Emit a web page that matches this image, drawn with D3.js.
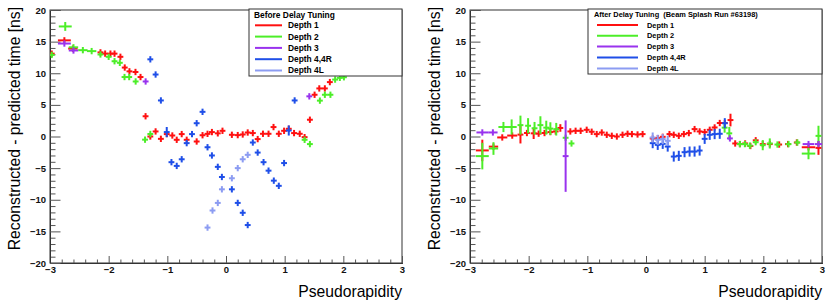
<!DOCTYPE html>
<html><head><meta charset="utf-8">
<script src="https://cdn.jsdelivr.net/npm/d3@7/dist/d3.min.js"></script>
<style>
html,body{margin:0;padding:0;background:#fff;}
svg{display:block;font-family:"Liberation Sans",Arial,Helvetica,sans-serif;}
</style></head>
<body>
<svg id="c" width="830" height="304"></svg>
<script>
// ---- data: [eta, time, etaErr, timeErr] ----
const xTicksMajor = [-3,-2,-1,0,1,2,3];
const yTicksMajor = [-20,-15,-10,-5,0,5,10,15,20];
const depthNames = ["Depth 1","Depth 2","Depth 3","Depth 4,4R","Depth 4L"];
const depthColors = ["#ff1010","#4cee28","#9933ee","#1f4fe8","#8c9cf2"];
const xLabel = "Pseudorapidity";
const yLabel = "Reconstructed - predicted time [ns]";
const titleBefore = "Before Delay Tuning";
const titleAfter = "After Delay Tuning  (Beam Splash Run #63198)";

const beforeD1 = [[-2.97,13.1],[-2.755,15.2,0.11],[-2.61,13.9,0.08],[-2.14,13.3],[-2.06,13.1],[-1.97,13.1],[-1.90,13.1],[-1.80,12.6],
 [-1.726,10.9],[-1.646,10.3],[-1.543,10.2],[-1.457,9.4],[-1.371,3.2],[-1.29,0.0],[-1.20,0.8],[-1.11,-0.37],[-1.01,0.38],[-0.915,0.16],
 [-0.84,-0.52],[-0.755,0.38],[-0.67,-0.52],[-0.50,-0.79],[-0.40,0.2],[-0.315,0.42],[-0.24,0.7],[-0.14,0.5],[-0.06,0.9],[0.10,0.27],
 [0.20,0.22],[0.285,0.32],[0.37,0.63],[0.457,0.54],[0.54,-0.41],[0.63,0.43],[0.725,0.43],[0.81,1.49],[0.90,0.43],[0.99,0.9],[1.07,1.22],
 [1.16,0.54],[1.257,0.43],[1.34,-0.1],[1.43,2.65],[1.51,6.6],[1.59,7.6],[1.685,7.6],[1.77,8.6]];
const beforeD2 = [[-2.97,12.9],[-2.74,17.4,0.11,0.7],[-2.60,14.1,0.08],[-2.44,13.65,0.08],[-2.29,13.5,0.08],[-2.14,12.97],[-2.0,12.6],
 [-1.90,11.9],[-1.81,11.65],[-1.73,9.4],[-1.65,9.4],[-1.54,8.7],[-1.38,-0.5],[-1.29,0.4],[1.34,-0.52],[1.43,-1.2],[1.60,5.67],
 [1.685,6.6],[1.78,6.6],[1.86,9.0],[1.94,9.27],[2.01,9.37]];
const beforeD3 = [[-2.755,14.7,0.11],[-2.60,13.6,0.08],[-1.37,8.7],[1.42,6.35]];
const beforeD4 = [[-1.29,12.2],[-1.20,9.8],[-1.11,5.7],[-1.01,0.7,0.05,0.8],[-0.93,-4.06],[-0.84,-4.65],[-0.755,-3.6],[-0.67,-1.05],
 [-0.58,0.38],[-0.50,2.1],[-0.40,3.9],[-0.315,-1.7],[-0.24,-3.0],[-0.14,-4.8],[-0.07,-6.4],[0.10,-8.35],[0.20,-10.5],[0.285,-12.06],
 [0.37,-14.0],[0.457,-0.95],[0.54,-2.54],[0.64,-4.06],[0.725,-5.4],[0.815,-6.98],[0.90,-7.8],[0.99,-4.2],[1.07,0.95,0.05,0.8],[1.17,5.7]];
const beforeD4L = [[-0.315,-14.4],[-0.23,-11.7],[-0.14,-10.5],[-0.07,-8.35],[0.10,-6.6],[0.20,-5.0],[0.285,-3.6],[0.37,-2.9]];

const afterD1 = [[-2.79,-2.2,0.11,1.7],[-2.60,-1.6,0.08,0.5],[-2.45,-0.15,0.086],[-2.28,0.15,0.086],[-2.14,0.3,0.05,1.4],[-2.03,0.55],
 [-1.915,0.5,0.05,0.9],[-1.83,0.45],[-1.73,0.55],[-1.63,0.7],[-1.54,0.8],[-1.46,1.35,0.05,0.6],[-1.29,0.8],[-1.20,0.9],[-1.114,0.9],
 [-1.011,1.06],[-0.926,0.75],[-0.84,0.38],[-0.754,0.63],[-0.669,0.27],[-0.583,0.11],[-0.497,0.0],[-0.40,0.27],[-0.314,0.43],[-0.24,0.38],
 [-0.144,0.32],[-0.058,0.38],[0.114,-0.32],[0.2,-0.26],[0.285,-0.05],[0.40,0.38],[0.473,0.27],[0.559,0.11],[0.645,0.38],[0.73,0.54],
 [0.828,1.17],[0.914,0.8],[1.0,0.7],[1.086,1.06],[1.17,1.43],[1.257,2.13],[1.343,2.13],[1.44,2.6,0.05,1.0],[1.52,-1.1],[1.60,-1.2],
 [1.69,-1.1],[1.78,-1.5],[1.87,-0.6],[1.99,-1.2],[2.11,-1.2],[2.27,-1.27],[2.42,-1.2],[2.57,-0.95],[2.77,-1.7,0.115],[2.94,-1.8,0.05,1.1]];
const afterD2 = [[-2.79,-3.1,0.11,2.1],[-2.60,-1.9,0.08,1.0],[-2.43,1.5,0.086,0.8],[-2.29,1.5,0.086,1.2],[-2.14,1.8,0.05,1.5],
 [-2.01,1.7,0.05,1.2],[-1.90,1.3,0.05,1.0],[-1.80,1.8,0.05,1.4],[-1.70,1.4,0.05,1.1],[-1.63,1.25,0.05,1.0],[-1.53,1.15,0.05,1.0],
 [-1.37,-0.2],[-1.27,-1.1],[1.34,1.4,0.05,0.8],[1.42,0.5,0.05,1.0],[1.60,-1.2],[1.685,-1.2],[1.77,-1.45],[1.87,-0.9],[1.99,-1.37,0.05,0.8],
 [2.11,-1.1,0.05,0.8],[2.24,-1.27],[2.43,-1.2],[2.58,-0.95],[2.77,-2.7,0.115,0.9],[2.94,0.1,0.05,1.6]];
const afterD3 = [[-2.79,0.64,0.1],[-2.61,0.64,0.08],[-1.37,-3.1,0.05,5.65],[1.43,-0.3],[2.77,-1.2,0.1],[2.94,-1.2,0.06]];
const afterD4 = [[0.114,-1.05,0.05,0.8],[0.2,-1.32,0.05,0.8],[0.285,-1.16,0.05,0.8],[0.37,-1.59,0.05,0.8],[0.473,-3.17,0.05,0.8],
 [0.559,-3.06,0.05,0.8],[0.657,-2.48,0.05,0.8],[0.743,-2.38,0.05,0.8],[0.828,-2.38,0.05,0.8],[0.914,-2.22,0.05,0.8],
 [1.0,-0.37,0.05,0.8],[1.086,0.27,0.05,0.8],[1.17,0.38,0.05,0.8],[1.257,0.43,0.05,0.8],[1.343,2.1,0.05,0.8]];
const afterD4L = [[0.114,-0.16,0.05,0.8],[0.2,-0.52,0.05,0.8],[0.285,-0.41,0.05,0.8],[0.37,-0.68,0.05,0.8]];

// ---- layout ----
const svg = d3.select("#c");
const panels = [
  {left:50, right:402, series:[beforeD1,beforeD2,beforeD3,beforeD4,beforeD4L], title:titleBefore,
   leg:{x:249,y:9,w:153,h:67,fs:8.4,titleX:254,titleY:15,lineX1:255,lineX2:282,textX:288,rows:[25.3,36.6,47.9,59.2,70.5]}},
  {left:470, right:822, series:[afterD1,afterD2,afterD3,afterD4,afterD4L], title:titleAfter,
   leg:{x:588,y:9,w:234,h:65,fs:7.4,titleX:594,titleY:14.2,lineX1:597,lineX2:638,textX:647,rows:[25,35.8,46.6,57.6,68.5]}}
];
const plotTop = 10, plotBottom = 263;
const defEx = 0.05, defEy = 0.5;

panels.forEach(p => {
  const x = d3.scaleLinear().domain([-3,3]).range([p.left,p.right]);
  const y = d3.scaleLinear().domain([-20,20]).range([plotBottom,plotTop]);
  const g = svg.append("g");

  g.append("rect").attr("x",p.left).attr("y",plotTop).attr("width",p.right-p.left).attr("height",plotBottom-plotTop)
    .attr("fill","#fff").attr("stroke","#333").attr("stroke-width",1);

  const xMinor = d3.range(-3,3.0001,0.2).filter(v=>Math.abs(v-Math.round(v))>1e-6);
  const yMinor = d3.range(-20,20.0001,1).filter(v=>v%5!==0);
  const ax1 = g.append("g").attr("transform",`translate(0,${plotBottom})`)
    .call(d3.axisBottom(x).tickValues(xMinor).tickSize(-3.5).tickFormat(""));
  const ay1 = g.append("g").attr("transform",`translate(${p.left},0)`)
    .call(d3.axisLeft(y).tickValues(yMinor).tickSize(-5.5).tickFormat(""));
  const ax2 = g.append("g").attr("transform",`translate(0,${plotBottom})`)
    .call(d3.axisBottom(x).tickValues(xTicksMajor).tickSize(-7).tickPadding(3).tickFormat(d3.format("d")));
  const ay2 = g.append("g").attr("transform",`translate(${p.left},0)`)
    .call(d3.axisLeft(y).tickValues(yTicksMajor).tickSize(-10.5).tickPadding(4).tickFormat(d3.format("d")));
  [ax1,ay1,ax2,ay2].forEach(a=>{
    a.select(".domain").attr("stroke","#333");
    a.selectAll(".tick line").attr("stroke","#555");
    a.selectAll("text").attr("font-size",9.5).attr("font-weight","bold").attr("fill","#111")
      .attr("font-family","'Liberation Sans',Arial,sans-serif");
  });

  const clip = "clip"+p.left;
  g.append("clipPath").attr("id",clip).append("rect").attr("x",p.left).attr("y",plotTop)
    .attr("width",p.right-p.left).attr("height",plotBottom-plotTop);
  const dg = g.append("g").attr("clip-path",`url(#${clip})`);
  p.series.forEach((s,i)=>{
    const col = depthColors[i];
    const pts = dg.append("g").selectAll("g").data(s).join("g");
    pts.append("line")
      .attr("x1",d=>x(d[0]-(d[2]||defEx))).attr("x2",d=>x(d[0]+(d[2]||defEx)))
      .attr("y1",d=>y(d[1])).attr("y2",d=>y(d[1]))
      .attr("stroke",col).attr("stroke-width",2);
    pts.append("line")
      .attr("x1",d=>x(d[0])).attr("x2",d=>x(d[0]))
      .attr("y1",d=>y(d[1]-(d[3]||defEy))).attr("y2",d=>y(d[1]+(d[3]||defEy)))
      .attr("stroke",col).attr("stroke-width",2);
  });

  const L = p.leg;
  g.append("rect").attr("x",L.x).attr("y",L.y).attr("width",L.w).attr("height",L.h)
    .attr("fill","#fff").attr("stroke","#333").attr("stroke-width",1);
  g.append("text").attr("x",L.titleX).attr("y",L.titleY).attr("dy","0.35em")
    .attr("font-size",L.fs).attr("font-weight","bold").attr("fill","#000")
    .style("white-space","pre").text(p.title);
  depthNames.forEach((n,i)=>{
    g.append("line").attr("x1",L.lineX1).attr("x2",L.lineX2).attr("y1",L.rows[i]).attr("y2",L.rows[i])
      .attr("stroke",depthColors[i]).attr("stroke-width",2);
    g.append("text").attr("x",L.textX).attr("y",L.rows[i]).attr("dy","0.35em")
      .attr("font-size",L.fs).attr("font-weight","bold").attr("fill","#000").text(n);
  });

  g.append("text").attr("x",p.right).attr("y",297).attr("text-anchor","end")
    .attr("font-size",15.7).attr("fill","#000").text(xLabel);
  g.append("text").attr("transform",`translate(${p.left-30},7) rotate(-90)`).attr("text-anchor","end")
    .attr("font-size",15.7).attr("fill","#000").text(yLabel);
});
</script>
</body></html>
